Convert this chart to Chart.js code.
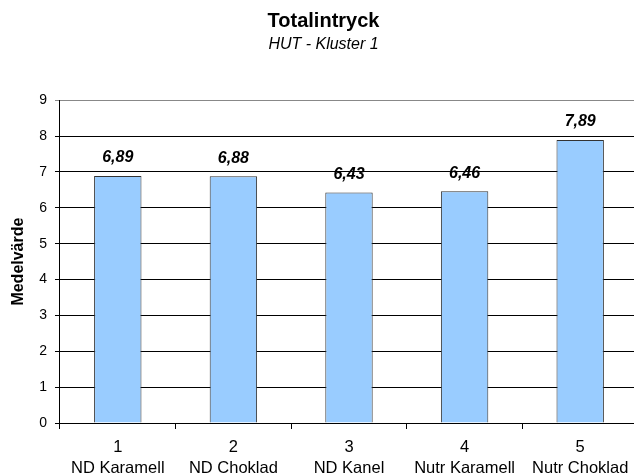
<!DOCTYPE html>
<html>
<head>
<meta charset="utf-8">
<script src="https://cdn.jsdelivr.net/npm/chart.js@4"></script>
<style>
  html, body { margin: 0; background: #fff; overflow: hidden; }
  #wrap { width: 638px; height: 475px; }
</style>
</head>
<body>
<div id="wrap"><canvas id="chart"></canvas></div>
<script>
// data
const categories = ["1", "2", "3", "4", "5"];
const productNames = ["ND Karamell", "ND Choklad", "ND Kanel", "Nutr Karamell", "Nutr Choklad"];
const meanValues = [6.89, 6.88, 6.43, 6.46, 7.89];
const yTicks = [0, 1, 2, 3, 4, 5, 6, 7, 8, 9];

const font = "'Liberation Sans', Arial, sans-serif";

// labels above the bars, with comma as decimal sign
const valueLabels = {
  id: "valueLabels",
  afterDatasetsDraw(chart) {
    const ctx = chart.ctx;
    const meta = chart.getDatasetMeta(0);
    ctx.save();
    ctx.font = "italic bold 16px " + font;
    ctx.fillStyle = "#000";
    ctx.textAlign = "center";
    ctx.textBaseline = "middle";
    meta.data.forEach((bar, i) => {
      const txt = meanValues[i].toFixed(2).replace(".", ",");
      ctx.fillText(txt, bar.x, bar.y - 18);
    });
    ctx.restore();
  }
};

new Chart(document.getElementById("chart"), {
  type: "bar",
  data: {
    labels: categories.map((c, i) => [c, productNames[i]]),
    datasets: [{
      data: meanValues,
      backgroundColor: "#99CCFF",
      borderColor: "#333333",
      borderWidth: 1,
      barPercentage: 0.41,
      categoryPercentage: 1
    }]
  },
  options: {
    responsive: true,
    maintainAspectRatio: false,
    animation: false,
    layout: { padding: { top: 9, left: 9, right: 0, bottom: 0 } },
    plugins: {
      legend: { display: false },
      tooltip: { enabled: false },
      title: {
        display: true,
        text: "Totalintryck",
        color: "#000",
        font: { family: font, size: 20, weight: "bold" },
        padding: { top: 0, bottom: 2 }
      },
      subtitle: {
        display: true,
        text: "HUT - Kluster 1",
        color: "#000",
        font: { family: font, size: 16, style: "italic" },
        padding: { top: 0, bottom: 46 }
      }
    },
    scales: {
      x: {
        offset: true,
        afterFit(scale) {
          scale.height = 52;
        },
        grid: {
          offset: true,
          drawOnChartArea: false,
          color: "#000",
          tickLength: 6
        },
        border: { color: "#000" },
        ticks: {
          color: "#000",
          font: { family: font, size: 16.5, lineHeight: 1.33 },
          maxRotation: 0,
          autoSkip: false,
          padding: 7
        }
      },
      y: {
        min: 0,
        max: 9,
        afterBuildTicks(scale) {
          scale.ticks = yTicks.map(v => ({ value: v }));
        },
        grid: {
          color: c => (c.tick && c.tick.value === 9 ? "#888888" : "#000"),
          tickLength: 5
        },
        border: { color: "#000" },
        ticks: {
          color: "#000",
          font: { family: font, size: 14 },
          padding: 8
        },
        title: {
          display: true,
          text: "Medelvärde",
          color: "#000",
          font: { family: font, size: 16, weight: "bold" },
          padding: { top: 0, bottom: 3 }
        }
      }
    }
  },
  plugins: [valueLabels]
});
</script>
</body>
</html>
